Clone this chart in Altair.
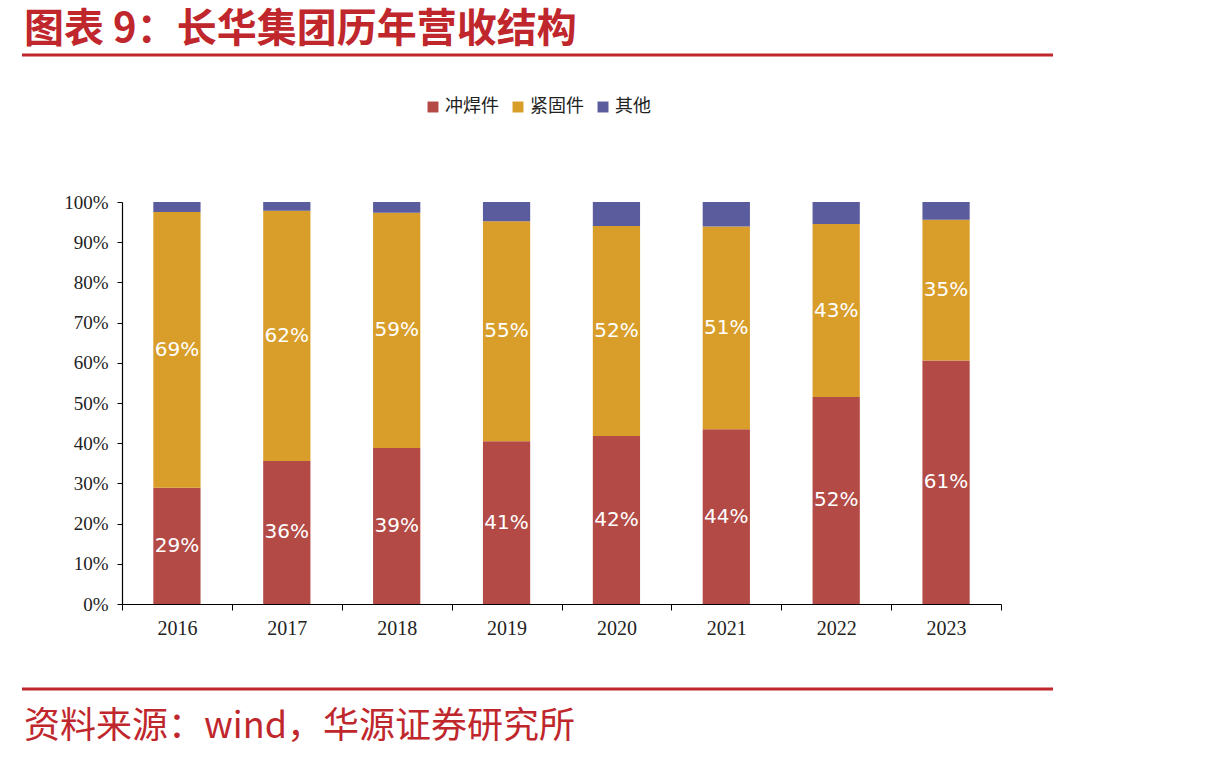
import altair as alt
import pandas as pd

years = ["2016", "2017", "2018", "2019", "2020", "2021", "2022", "2023"]
stamping = [28.9, 35.6, 38.8, 40.5, 41.8, 43.5, 51.5, 60.6]
fastener = [68.6, 62.2, 58.5, 54.7, 52.2, 50.4, 43.0, 35.0]
other = [2.5, 2.2, 2.7, 4.8, 6.0, 6.1, 5.5, 4.4]
stamp_labels = ["29%", "36%", "39%", "41%", "42%", "44%", "52%", "61%"]
fast_labels = ["69%", "62%", "59%", "55%", "52%", "51%", "43%", "35%"]
series = ["冲焊件", "紧固件", "其他"]
colors = ["#B34A46", "#D99E2A", "#5A5C9E"]
chart_title = "图表 9：长华集团历年营收结构"
source_note = "资料来源：wind，华源证券研究所"

rows = []
for i, y in enumerate(years):
    base = 0.0
    for k, (name, vals) in enumerate(zip(series, [stamping, fastener, other])):
        v = vals[i]
        lab = [stamp_labels, fast_labels, None][k]
        rows.append({
            "year": y, "series": name, "order": k, "value": v,
            "y0": base, "y1": base + v, "mid": base + v / 2,
            "label": lab[i] if lab else "",
        })
        base += v
df = pd.DataFrame(rows)

W, H = 879, 402
x_enc = alt.X("year:N", sort=years, title=None,
              scale=alt.Scale(paddingInner=0, paddingOuter=0),
              axis=alt.Axis(labelAngle=0, labelFont="Liberation Serif", labelFontSize=20,
                            labelColor="#222222", domainColor="#000000", tickColor="#000000",
                            tickSize=6, tickBand="extent", labelPadding=8, domainWidth=1.2))

bars = alt.Chart(df).mark_bar(width=alt.RelativeBandSize(0.43)).encode(
    x=x_enc,
    y=alt.Y("y0:Q", title=None, scale=alt.Scale(domain=[0, 100], nice=False),
            axis=alt.Axis(values=list(range(0, 101, 10)), labelExpr="datum.value + '%'",
                          labelFont="Liberation Serif", labelFontSize=19, labelColor="#222222",
                          grid=False, domainColor="#000000", tickColor="#000000",
                          tickSize=5, labelPadding=9, domainWidth=1.2)),
    y2="y1:Q",
    color=alt.Color("series:N", sort=series,
                    scale=alt.Scale(domain=series, range=colors),
                    legend=alt.Legend(title=None, orient="none", direction="horizontal",
                                      legendX=302, legendY=-104, symbolType="square",
                                      symbolSize=120, symbolStrokeWidth=0,
                                      labelFont="Noto Sans CJK SC", labelFontSize=18,
                                      labelColor="#222222", columnPadding=10,
                                      labelOffset=3, symbolOpacity=1)),
)

labels = alt.Chart(df).transform_filter("datum.label != ''").mark_text(
    color="white", font="DejaVu Sans", fontSize=20, baseline="middle", align="center"
).encode(
    x=alt.X("year:N", sort=years, bandPosition=0.5),
    y=alt.Y("mid:Q"),
    text="label:N",
)

title_df = pd.DataFrame({"t": [chart_title]})
title = alt.Chart(title_df).mark_text(
    font="Noto Sans CJK SC", fontSize=40, color="#C0272D", align="left",
    baseline="middle", fontWeight="bold"
).encode(text="t:N", x=alt.value(-98), y=alt.value(-172))

foot_df = pd.DataFrame({"t": [source_note]})
foot = alt.Chart(foot_df).mark_text(
    font="Noto Sans CJK SC", fontSize=36, color="#C0272D", align="left",
    baseline="middle"
).encode(text="t:N", x=alt.value(-98), y=alt.value(525))

line_df = pd.DataFrame({"a": [0]})
top_line = alt.Chart(line_df).mark_rule(color="#C0272D", strokeWidth=3).encode(
    x=alt.value(-100), x2=alt.value(931), y=alt.value(-147))
bot_line = alt.Chart(line_df).mark_rule(color="#C0272D", strokeWidth=3).encode(
    x=alt.value(-100), x2=alt.value(931), y=alt.value(85 + H))

chart = alt.layer(bars, labels, title, foot, top_line, bot_line).properties(
    width=W, height=H,
    padding={"left": 122, "top": 202, "right": 209, "bottom": 156},
    autosize=alt.AutoSizeParams(type="none"),
    background="white",
).configure_view(stroke=None)

chart.save("out.html", embed_options={"renderer": "svg", "actions": False})
